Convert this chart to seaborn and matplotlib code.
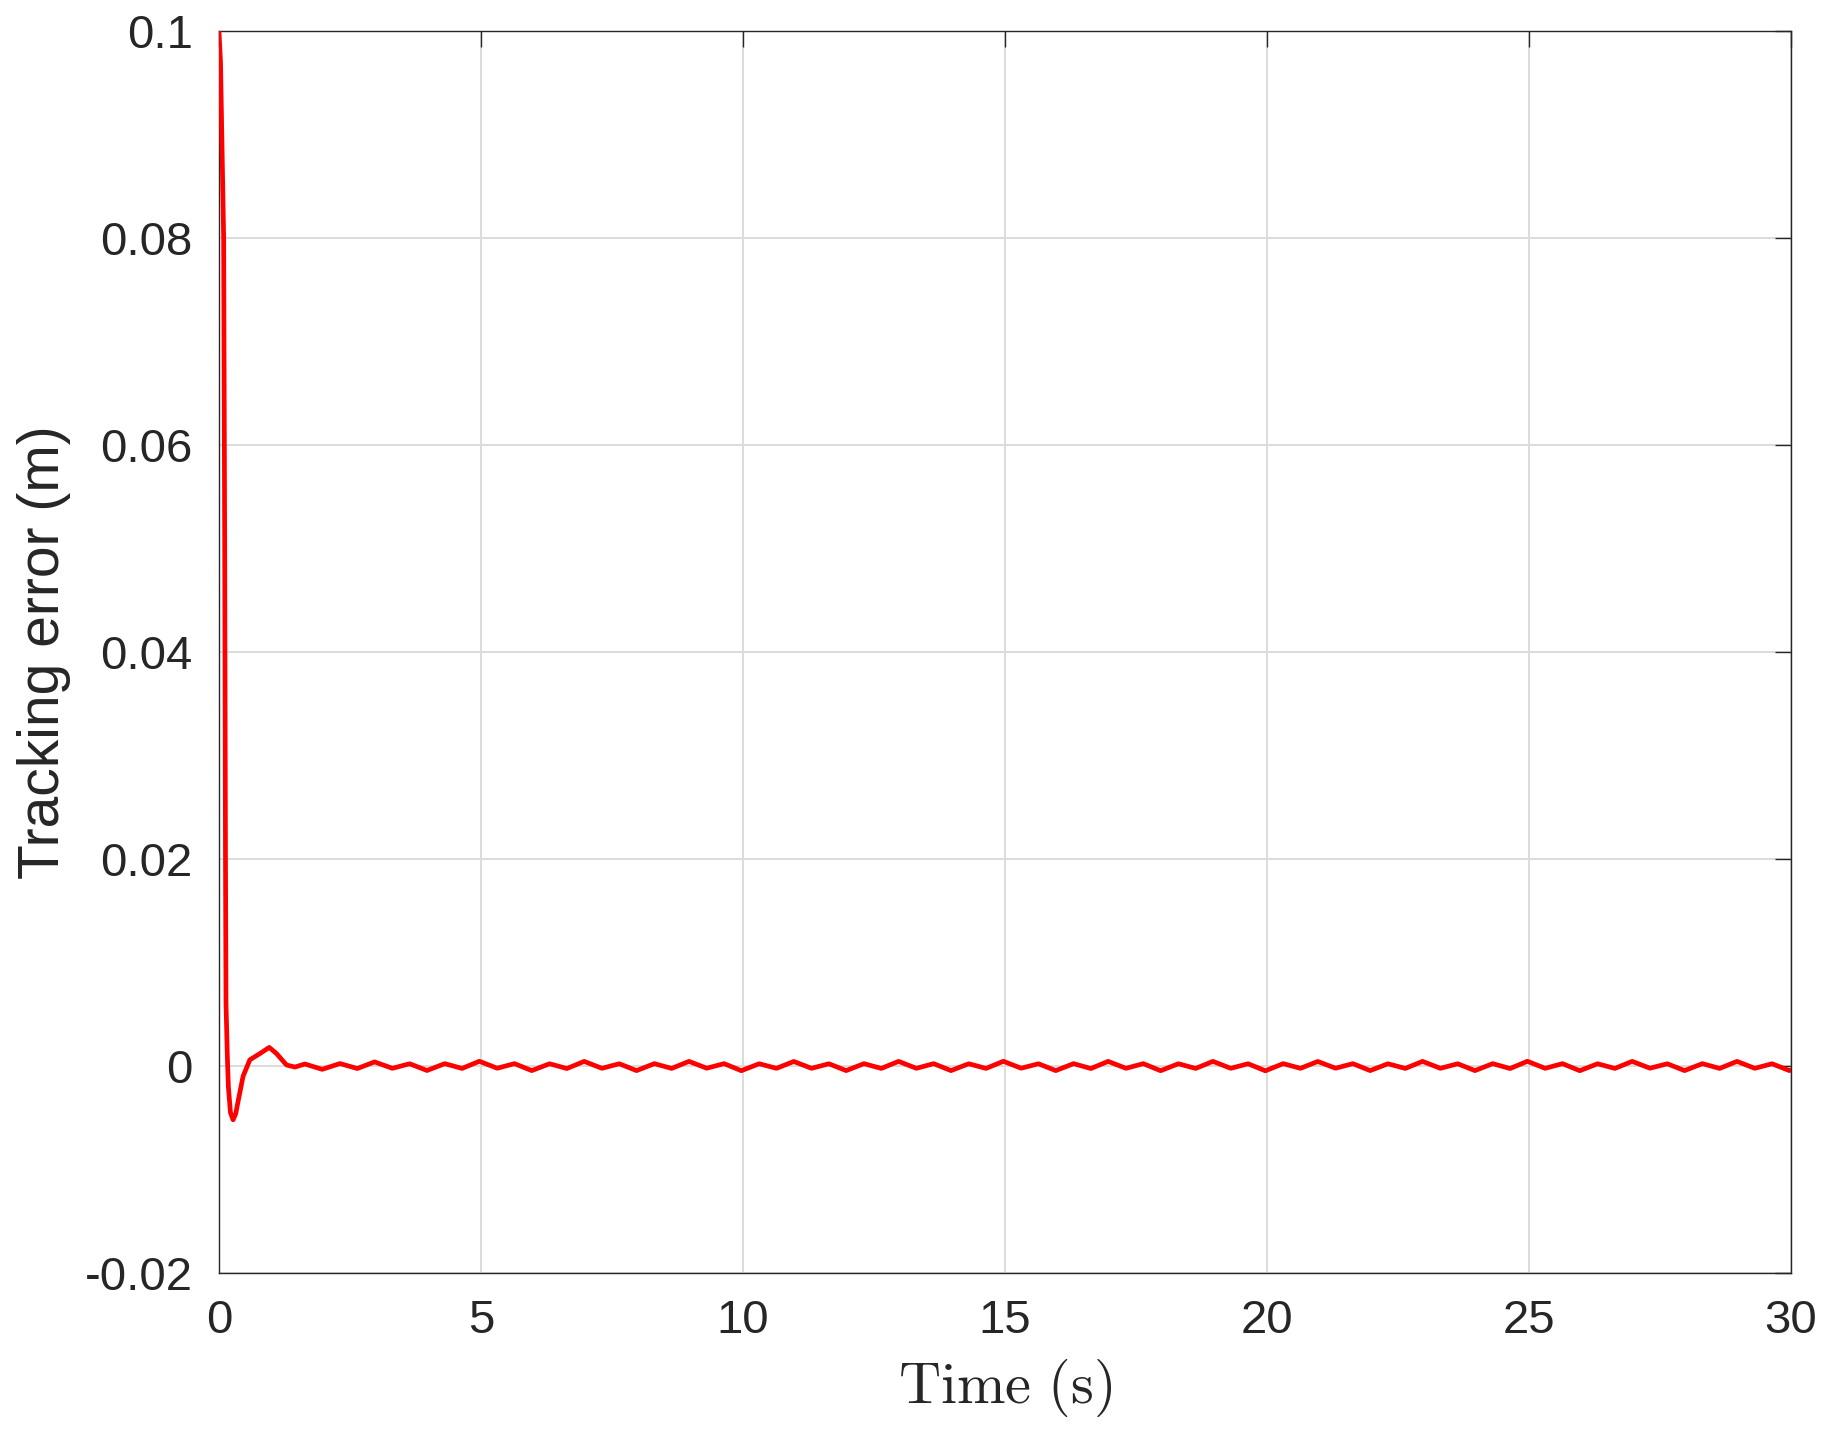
"""Tracking error of the controller over 30 s (MATLAB-style figure)."""
import matplotlib
matplotlib.use("Agg")
import matplotlib.pyplot as plt
import pandas as pd
import seaborn as sns

# transient right after start: time (s), error (m)
t_start = [0.0, 0.03, 0.09, 0.11, 0.125, 0.135, 0.16, 0.18, 0.22, 0.27,
           0.32, 0.37, 0.46, 0.59, 0.78, 0.96, 1.10, 1.29, 1.45]
e_start = [0.1, 0.097, 0.08, 0.05, 0.02, 0.006, 0.001, -0.002, -0.0045, -0.0052,
           -0.0046, -0.0033, -0.001, 0.0006, 0.0012, 0.0018, 0.0012, 0.0001, -0.0001]

# steady-state ripple: peak / trough times (s) and values (1e-4 m)
t_osc = [1.64, 1.97, 2.31, 2.64, 2.97, 3.31,
         3.64, 3.97, 4.31, 4.64, 4.97, 5.31,
         5.64, 5.97, 6.31, 6.64, 6.97, 7.31,
         7.64, 7.97, 8.31, 8.64, 8.97, 9.31,
         9.64, 9.97, 10.31, 10.64, 10.97, 11.31,
         11.64, 11.97, 12.31, 12.64, 12.97, 13.31,
         13.64, 13.97, 14.31, 14.64, 14.97, 15.31,
         15.64, 15.97, 16.31, 16.64, 16.97, 17.31,
         17.64, 17.97, 18.31, 18.64, 18.97, 19.31,
         19.64, 19.97, 20.31, 20.64, 20.97, 21.31,
         21.64, 21.97, 22.31, 22.64, 22.97, 23.31,
         23.64, 23.97, 24.31, 24.64, 24.97, 25.31,
         25.64, 25.97, 26.31, 26.64, 26.97, 27.31,
         27.64, 27.97, 28.31, 28.64, 28.97, 29.31,
         29.64, 29.97, 30.0]
e_osc_1e4 = [2.0, -3.2, 2.4, -2.4, 4.0, -2.2,
             2.2, -4.3, 2.3, -2.3, 4.6, -2.1,
             2.3, -4.4, 2.2, -2.4, 4.5, -2.2,
             2.2, -4.4, 2.3, -2.3, 4.5, -2.1,
             2.3, -4.5, 2.2, -2.2, 4.4, -2.2,
             2.2, -4.4, 2.3, -2.3, 4.5, -2.2,
             2.3, -4.4, 2.2, -2.3, 4.6, -2.1,
             2.2, -4.4, 2.3, -2.4, 4.5, -2.2,
             2.3, -4.5, 2.2, -2.3, 4.5, -2.2,
             2.2, -4.6, 2.3, -2.2, 4.4, -2.1,
             2.3, -4.4, 2.2, -2.3, 4.5, -2.2,
             2.2, -4.4, 2.3, -2.4, 4.6, -2.2,
             2.3, -4.5, 2.2, -2.3, 4.5, -2.1,
             2.2, -4.4, 2.3, -2.3, 4.5, -2.2,
             2.2, -4.4, -4.0]

x_ticks = [0, 5, 10, 15, 20, 25, 30]
y_ticks = [-0.02, 0, 0.02, 0.04, 0.06, 0.08, 0.1]
y_tick_labels = ["-0.02", "0", "0.02", "0.04", "0.06", "0.08", "0.1"]

df = pd.DataFrame({
    "time": t_start + t_osc,
    "error": e_start + [v * 1e-4 for v in e_osc_1e4],
})

sns.set_theme(style="white")
plt.rcParams["font.family"] = ["Liberation Sans", "DejaVu Sans"]
plt.rcParams["mathtext.fontset"] = "cm"

dark = "#262626"
fig = plt.figure(figsize=(18.26, 14.37), dpi=100)
ax = fig.add_axes([0.1199, 0.1141, 0.8609, 0.8643])

sns.lineplot(data=df, x="time", y="error", sort=False, color="#ff0000",
             linewidth=3.4, ax=ax, zorder=3,
             solid_joinstyle="round", solid_capstyle="round")

ax.set_xlim(0, 30)
ax.set_ylim(-0.02, 0.1)
ax.set_xticks(x_ticks)
ax.set_xticklabels([str(v) for v in x_ticks])
ax.set_yticks(y_ticks)
ax.set_yticklabels(y_tick_labels)

ax.grid(True, color="#dcdcdc", linewidth=1.4)
for sp in ax.spines.values():
    sp.set_visible(True)
    sp.set_color(dark)
    sp.set_linewidth(1.0)
ax.tick_params(direction="in", length=11.5, width=1.0, top=True, right=True,
               labelsize=34, pad=19, color=dark, labelcolor=dark)

ax.set_xlabel(r"$\mathrm{Time\ (s)}$", fontsize=42, color=dark, labelpad=10)
ax.set_ylabel("Tracking error (m)", fontsize=41, color=dark, labelpad=10)

fig.savefig("out.png", dpi=100)
